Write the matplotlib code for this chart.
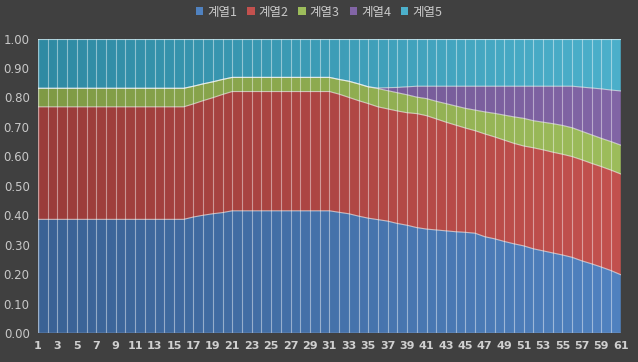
import numpy as np
import matplotlib
matplotlib.use("Agg")
import matplotlib.pyplot as plt
from matplotlib.colors import LinearSegmentedColormap
from matplotlib.patches import Rectangle, Polygon

plt.rcParams['font.family'] = ['Noto Sans CJK KR', 'DejaVu Sans']

categories = list(range(1, 62))
series_names = ["계열1", "계열2", "계열3", "계열4", "계열5"]

s1 = [0.386] * 16 + [0.394, 0.400, 0.405, 0.409] + [0.415] * 11 + [
    0.410, 0.405, 0.397, 0.390, 0.385, 0.380, 0.372, 0.366, 0.358, 0.353,
    0.350, 0.347, 0.344, 0.342, 0.339, 0.327, 0.320, 0.311, 0.303, 0.296,
    0.286, 0.279, 0.272, 0.265, 0.257, 0.245, 0.235, 0.224, 0.212, 0.198]
s2 = [0.382] * 16 + [0.384, 0.389, 0.394, 0.401] + [0.405] * 11 + [
    0.401, 0.395, 0.392, 0.389, 0.383, 0.381, 0.382, 0.382, 0.387, 0.385,
    0.377, 0.369, 0.362, 0.354, 0.348, 0.349, 0.346, 0.344, 0.341, 0.339,
    0.343, 0.343, 0.342, 0.342, 0.342, 0.343, 0.341, 0.341, 0.341, 0.342]
s3 = [0.063] * 16 + [0.060, 0.057, 0.054, 0.051] + [0.048] * 11 + [
    0.050, 0.055, 0.057, 0.057, 0.062, 0.062, 0.062, 0.061, 0.056, 0.058,
    0.060, 0.063, 0.065, 0.067, 0.070, 0.075, 0.080, 0.085, 0.090, 0.094,
    0.092, 0.094, 0.097, 0.098, 0.098, 0.097, 0.097, 0.096, 0.097, 0.098]
s4 = [0.0] * 35 + [
    0.002, 0.010, 0.018, 0.027, 0.037, 0.042, 0.051, 0.059, 0.067, 0.075,
    0.081, 0.087, 0.092, 0.098, 0.104, 0.109, 0.117, 0.122, 0.127, 0.133,
    0.141, 0.150, 0.159, 0.168, 0.175, 0.184]
s5 = [0.169] * 16 + [0.162, 0.154, 0.147, 0.139] + [0.132] * 11 + [
    0.139, 0.145, 0.154, 0.164, 0.168, 0.167, 0.166, 0.164] + [0.162] * 17 + [
    0.165, 0.168, 0.171, 0.175, 0.178]

y_ticks = [0.0, 0.1, 0.2, 0.3, 0.4, 0.5, 0.6, 0.7, 0.8, 0.9, 1.0]
x_tick_labels = list(range(1, 62, 2))

colors_dark = ["#3a6295", "#9a3c3a", "#7f9a45", "#654f85", "#2f8aa3"]
colors_light = ["#5082c0", "#c3514e", "#9dbd5b", "#8265a6", "#4cb0cb"]

bg = "#404040"
fig = plt.figure(figsize=(6.38, 3.62), dpi=100, facecolor=bg)
ax = fig.add_axes([0.0596, 0.080, 0.9134, 0.8136])
ax.set_facecolor(bg)

x = np.array(categories, dtype=float)
data = np.array([s1, s2, s3, s4, s5], dtype=float)
data = data / data.sum(axis=0)
cum = np.vstack([np.zeros(len(x)), np.cumsum(data, axis=0)])

grad = np.linspace(0, 1, 256).reshape(1, -1)
for i in range(5):
    verts = np.column_stack([np.concatenate([x, x[::-1]]),
                             np.concatenate([cum[i + 1], cum[i][::-1]])])
    poly = Polygon(verts, closed=True, facecolor='none', edgecolor='none',
                   transform=ax.transData)
    ax.add_patch(poly)
    cmap = LinearSegmentedColormap.from_list(f"g{i}", [colors_dark[i], colors_light[i]])
    im = ax.imshow(grad, extent=[x[0], x[-1], 0, 1], aspect='auto', cmap=cmap,
                   origin='lower', zorder=1, interpolation='bilinear')
    im.set_clip_path(poly)

for i in range(1, 6):
    ax.plot(x, cum[i], color='white', alpha=0.6, lw=0.8, zorder=3)

ax.vlines(x[1:-1], 0, 1, colors='white', alpha=0.45, lw=0.8, zorder=2)
ax.axvline(x[0], color='white', alpha=0.5, lw=1.0, zorder=3)

ax.set_xlim(x[0], x[-1])
ax.set_ylim(0, 1)
ax.set_yticks(y_ticks)
ax.set_yticklabels([f"{v:.2f}" for v in y_ticks], color="#c8c8c8", fontsize=8.5,
                   family=['DejaVu Sans'])
ax.set_xticks(x_tick_labels)
ax.set_xticklabels([str(v) for v in x_tick_labels], color="#d0d0d0", fontsize=8,
                   fontweight='bold', family=['DejaVu Sans'])
ax.tick_params(axis='both', length=0, pad=6)
for name, sp in ax.spines.items():
    sp.set_visible(False)
ax.axhline(0, color='#9aa8c0', lw=1.0, zorder=4)

# legend
handles = [Rectangle((0, 0), 1, 1, facecolor=colors_light[i], edgecolor='none') for i in range(5)]
leg = fig.legend(handles, series_names, loc='upper center', bbox_to_anchor=(0.500, 1.015),
                 ncol=5, frameon=False, fontsize=9, handlelength=0.6, handleheight=0.6,
                 handletextpad=0.3, columnspacing=0.8, labelcolor="#c8c8c8")

fig.savefig("out.png", dpi=100, facecolor=bg)
